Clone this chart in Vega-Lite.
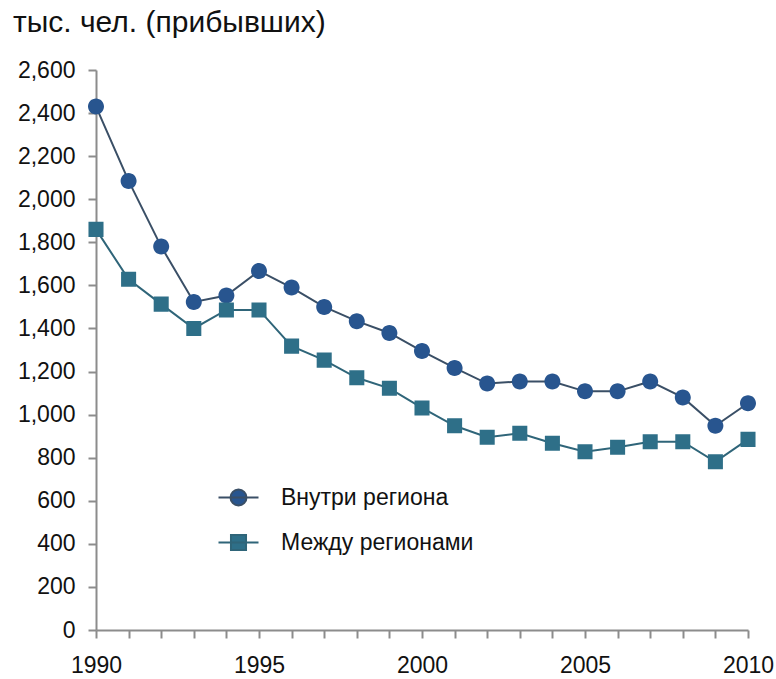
{
  "$schema": "https://vega.github.io/schema/vega-lite/v6.json",
  "width": 652,
  "height": 560,
  "autosize": {"type": "none"},
  "padding": {"left": 96, "top": 70, "right": 28, "bottom": 49},
  "background": "white",
  "title": {
    "text": "тыс. чел. (прибывших)",
    "anchor": "start",
    "frame": "group",
    "dx": -83,
    "offset": 21,
    "fontSize": 30,
    "font": "Liberation Sans",
    "fontWeight": "normal",
    "color": "#111111"
  },
  "config": {
    "view": {"stroke": null},
    "font": "Liberation Sans",
    "axis": {
      "grid": false,
      "domainColor": "#8c8c8c",
      "domainWidth": 2,
      "tickColor": "#8c8c8c",
      "tickWidth": 2,
      "tickSize": 8,
      "labelFont": "Liberation Sans",
      "labelFontSize": 23,
      "labelColor": "#111111",
      "titleFontSize": 0
    }
  },
  "data": {
    "values": [
      {"year": 1990, "series": "Внутри региона", "value": 2430},
      {"year": 1991, "series": "Внутри региона", "value": 2085},
      {"year": 1992, "series": "Внутри региона", "value": 1780},
      {"year": 1993, "series": "Внутри региона", "value": 1523},
      {"year": 1994, "series": "Внутри региона", "value": 1553},
      {"year": 1995, "series": "Внутри региона", "value": 1667},
      {"year": 1996, "series": "Внутри региона", "value": 1590},
      {"year": 1997, "series": "Внутри региона", "value": 1500},
      {"year": 1998, "series": "Внутри региона", "value": 1434},
      {"year": 1999, "series": "Внутри региона", "value": 1379},
      {"year": 2000, "series": "Внутри региона", "value": 1295},
      {"year": 2001, "series": "Внутри региона", "value": 1217},
      {"year": 2002, "series": "Внутри региона", "value": 1144},
      {"year": 2003, "series": "Внутри региона", "value": 1154},
      {"year": 2004, "series": "Внутри региона", "value": 1154},
      {"year": 2005, "series": "Внутри региона", "value": 1108},
      {"year": 2006, "series": "Внутри региона", "value": 1108},
      {"year": 2007, "series": "Внутри региона", "value": 1154},
      {"year": 2008, "series": "Внутри региона", "value": 1080},
      {"year": 2009, "series": "Внутри региона", "value": 948},
      {"year": 2010, "series": "Внутри региона", "value": 1053},
      {"year": 1990, "series": "Между регионами", "value": 1860},
      {"year": 1991, "series": "Между регионами", "value": 1628},
      {"year": 1992, "series": "Между регионами", "value": 1513},
      {"year": 1993, "series": "Между регионами", "value": 1400},
      {"year": 1994, "series": "Между регионами", "value": 1486},
      {"year": 1995, "series": "Между регионами", "value": 1486},
      {"year": 1996, "series": "Между регионами", "value": 1318},
      {"year": 1997, "series": "Между регионами", "value": 1253},
      {"year": 1998, "series": "Между регионами", "value": 1171},
      {"year": 1999, "series": "Между регионами", "value": 1122},
      {"year": 2000, "series": "Между регионами", "value": 1031},
      {"year": 2001, "series": "Между регионами", "value": 948},
      {"year": 2002, "series": "Между регионами", "value": 895},
      {"year": 2003, "series": "Между регионами", "value": 913},
      {"year": 2004, "series": "Между регионами", "value": 867},
      {"year": 2005, "series": "Между регионами", "value": 828},
      {"year": 2006, "series": "Между регионами", "value": 848},
      {"year": 2007, "series": "Между регионами", "value": 874},
      {"year": 2008, "series": "Между регионами", "value": 874},
      {"year": 2009, "series": "Между регионами", "value": 781},
      {"year": 2010, "series": "Между регионами", "value": 885}
    ]
  },
  "encoding": {
    "x": {
      "field": "year",
      "type": "quantitative",
      "scale": {"domain": [1990, 2010], "nice": false, "zero": false},
      "axis": {
        "title": null,
        "values": [1990,1991,1992,1993,1994,1995,1996,1997,1998,1999,2000,2001,2002,2003,2004,2005,2006,2007,2008,2009,2010],
        "labelExpr": "datum.value % 5 === 0 ? datum.value : ''",
        "labelPadding": 16,
        "labelFlush": false,
        "labelOverlap": false
      }
    },
    "y": {
      "field": "value",
      "type": "quantitative",
      "scale": {"domain": [0, 2600], "nice": false},
      "axis": {
        "title": null,
        "values": [0,200,400,600,800,1000,1200,1400,1600,1800,2000,2200,2400,2600],
        "format": ",d",
        "labelPadding": 13
      }
    }
  },
  "layer": [
    {
      "mark": {"type": "line", "strokeWidth": 2},
      "encoding": {
        "stroke": {
          "field": "series",
          "type": "nominal",
          "scale": {"domain": ["Внутри региона", "Между регионами"], "range": ["#3a4f66", "#2f6579"]},
          "legend": {
            "title": null,
            "orient": "none",
            "legendX": 131,
            "legendY": 416,
            "padding": 0,
            "symbolSize": 256,
            "symbolStrokeWidth": 2,
            "labelOffset": 31,
            "labelLimit": 400,
            "labelFontSize": 23,
            "labelFont": "Liberation Sans",
            "labelColor": "#111111",
            "rowPadding": 20,
            "encoding": {
              "symbols": {
                "strokeWidth": {"value": 2},
                "strokeOpacity": {"value": 1},
                "size": {"value": 256},
                "opacity": {"value": 1}
              }
            }
          }
        }
      }
    },
    {
      "mark": {"type": "point", "filled": true, "opacity": 1, "size": 256},
      "encoding": {
        "shape": {
          "field": "series",
          "type": "nominal",
          "scale": {"domain": ["Внутри региона", "Между регионами"], "range": ["M-2.5,0H2.5M-1,0A1,1 0 1,0 1,0A1,1 0 1,0 -1,0Z", "M-2.5,0H2.5M-0.94,-0.94H0.94V0.94H-0.94Z"]},
          "legend": null
        },
        "fill": {
          "field": "series",
          "type": "nominal",
          "scale": {"domain": ["Внутри региона", "Между регионами"], "range": ["#28558f", "#2e6f88"]},
          "legend": null
        }
      }
    }
  ]
}
